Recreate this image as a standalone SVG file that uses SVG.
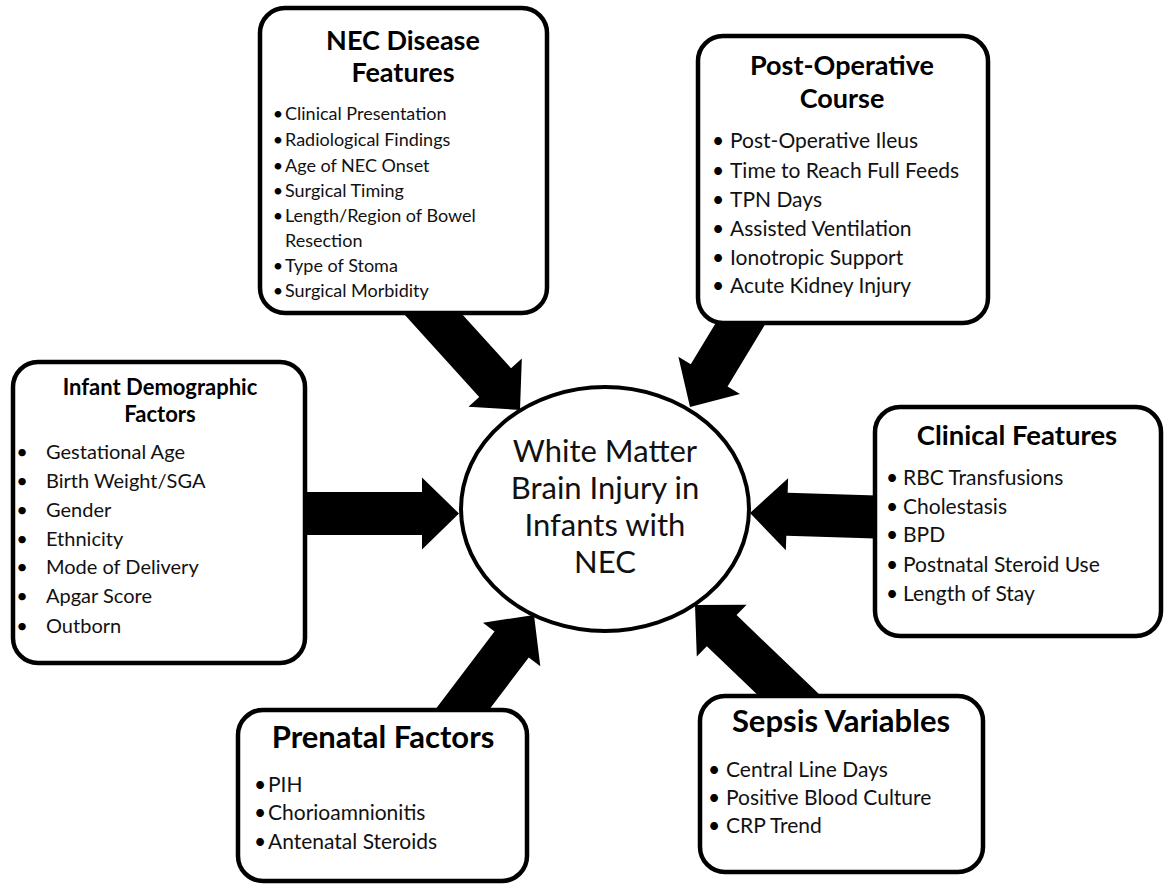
<svg xmlns="http://www.w3.org/2000/svg" width="1164" height="886" viewBox="0 0 1164 886">
<style>
.box{fill:#fff;stroke:#000;stroke-width:4.5}
.hub{fill:#fff;stroke:#000;stroke-width:4}
.t{font-family:Lato,"Liberation Sans",sans-serif;font-weight:bold;fill:#000;text-anchor:middle}
.i{font-family:Lato,"Liberation Sans",sans-serif;fill:#111}
.b{font-family:Lato,"Liberation Sans",sans-serif;fill:#000;text-anchor:middle}
.c{font-family:Lato,"Liberation Sans",sans-serif;fill:#111;text-anchor:middle;font-size:31px}
</style>
<defs>
<path id="arr" d="M0,0 L-37,-36 V-21.5 H-175 V21.5 H-37 V36 Z" fill="#000"/>
</defs>
<g id="connectors">
<use href="#arr" transform="translate(520,410) rotate(47.8)"/>
<use href="#arr" transform="translate(690,407) rotate(121.2)"/>
<use href="#arr" transform="translate(459,513.5)"/>
<use href="#arr" transform="translate(750,513) rotate(181.8)"/>
<use href="#arr" transform="translate(534,615) rotate(-52.8)"/>
<use href="#arr" transform="translate(695,605) rotate(-136.2)"/>
</g>
<g id="hub">
<ellipse class="hub" cx="605" cy="509" rx="144" ry="122"/>
<text class="c" x="605" y="462">White Matter</text>
<text class="c" x="605" y="499">Brain Injury in</text>
<text class="c" x="605" y="536">Infants with</text>
<text class="c" x="605" y="573">NEC</text>
</g>
<g id="nec-disease">
<rect class="box" x="260" y="8" width="287" height="305" rx="25"/>
<text class="t" x="403" y="50" font-size="27">NEC Disease</text>
<text class="t" x="403" y="82" font-size="27">Features</text>
<g font-size="18">
<text class="b" x="278" y="120">•</text><text class="i" x="285" y="120">Clinical Presentation</text>
<text class="b" x="278" y="146">•</text><text class="i" x="285" y="146">Radiological Findings</text>
<text class="b" x="278" y="172">•</text><text class="i" x="285" y="172">Age of NEC Onset</text>
<text class="b" x="278" y="197">•</text><text class="i" x="285" y="197">Surgical Timing</text>
<text class="b" x="278" y="222">•</text><text class="i" x="285" y="222">Length/Region of Bowel</text>
<text class="i" x="285" y="247">Resection</text>
<text class="b" x="278" y="272">•</text><text class="i" x="285" y="272">Type of Stoma</text>
<text class="b" x="278" y="297">•</text><text class="i" x="285" y="297">Surgical Morbidity</text>
</g>
</g>
<g id="post-operative">
<rect class="box" x="698" y="36" width="290" height="287" rx="25"/>
<text class="t" x="842" y="75" font-size="27">Post-Operative</text>
<text class="t" x="842" y="108" font-size="27">Course</text>
<g font-size="21">
<text class="b" x="718" y="148">•</text><text class="i" x="730" y="148">Post-Operative Ileus</text>
<text class="b" x="718" y="178">•</text><text class="i" x="730" y="178">Time to Reach Full Feeds</text>
<text class="b" x="718" y="207">•</text><text class="i" x="730" y="207">TPN Days</text>
<text class="b" x="718" y="236">•</text><text class="i" x="730" y="236">Assisted Ventilation</text>
<text class="b" x="718" y="265">•</text><text class="i" x="730" y="265">Ionotropic  Support</text>
<text class="b" x="718" y="293">•</text><text class="i" x="730" y="293">Acute Kidney Injury</text>
</g>
</g>
<g id="infant-demographic">
<rect class="box" x="13" y="362" width="292" height="301" rx="25"/>
<text class="t" x="160" y="395" font-size="22">Infant Demographic</text>
<text class="t" x="160" y="422" font-size="22">Factors</text>
<g font-size="20">
<text class="b" x="22" y="459">•</text><text class="i" x="46" y="459">Gestational Age</text>
<text class="b" x="22" y="488">•</text><text class="i" x="46" y="488">Birth Weight/SGA</text>
<text class="b" x="22" y="517">•</text><text class="i" x="46" y="517">Gender</text>
<text class="b" x="22" y="546">•</text><text class="i" x="46" y="546">Ethnicity</text>
<text class="b" x="22" y="574">•</text><text class="i" x="46" y="574">Mode of Delivery</text>
<text class="b" x="22" y="603">•</text><text class="i" x="46" y="603">Apgar Score</text>
<text class="b" x="22" y="633">•</text><text class="i" x="46" y="633">Outborn</text>
</g>
</g>
<g id="clinical-features">
<rect class="box" x="875" y="407" width="286" height="229" rx="25"/>
<text class="t" x="1017" y="445" font-size="27.5">Clinical Features</text>
<g font-size="21">
<text class="b" x="892" y="485">•</text><text class="i" x="903" y="485">RBC Transfusions</text>
<text class="b" x="892" y="514">•</text><text class="i" x="903" y="514">Cholestasis</text>
<text class="b" x="892" y="542">•</text><text class="i" x="903" y="542">BPD</text>
<text class="b" x="892" y="572">•</text><text class="i" x="903" y="572">Postnatal Steroid Use</text>
<text class="b" x="892" y="601">•</text><text class="i" x="903" y="601">Length of Stay</text>
</g>
</g>
<g id="prenatal-factors">
<rect class="box" x="238" y="710" width="289" height="171" rx="25"/>
<text class="t" x="383" y="748" font-size="31">Prenatal Factors</text>
<g font-size="21">
<text class="b" x="260" y="792">•</text><text class="i" x="268" y="792">PIH</text>
<text class="b" x="260" y="820">•</text><text class="i" x="268" y="820">Chorioamnionitis</text>
<text class="b" x="260" y="849">•</text><text class="i" x="268" y="849">Antenatal Steroids</text>
</g>
</g>
<g id="sepsis-variables">
<rect class="box" x="700" y="696" width="283" height="176" rx="25"/>
<text class="t" x="841" y="732" font-size="31">Sepsis Variables</text>
<g font-size="21">
<text class="b" x="714" y="777">•</text><text class="i" x="726" y="777">Central Line Days</text>
<text class="b" x="714" y="805">•</text><text class="i" x="726" y="805">Positive Blood Culture</text>
<text class="b" x="714" y="833">•</text><text class="i" x="726" y="833">CRP Trend</text>
</g>
</g>
</svg>
